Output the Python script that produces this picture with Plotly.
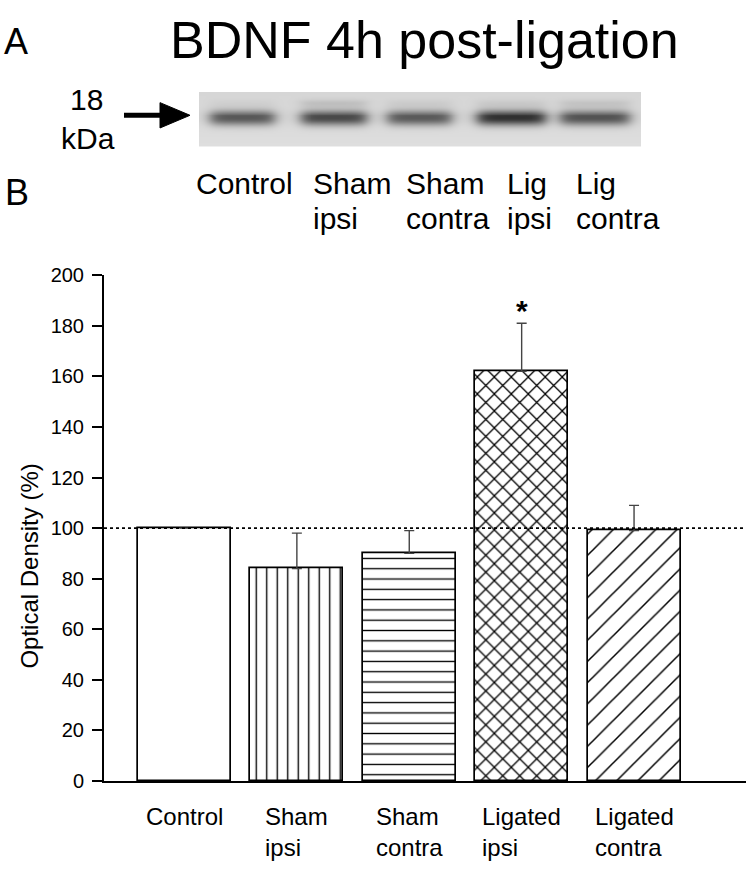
import numpy as np
import plotly.graph_objects as go

W, H = 750, 872

# ---------------- data ----------------
categories = ["Control", "Sham ipsi", "Sham contra", "Ligated ipsi", "Ligated contra"]
cat_labels = ["Control", "Sham<br>ipsi", "Sham<br>contra", "Ligated<br>ipsi", "Ligated<br>contra"]
od_mean = [100, 84, 90, 162, 99]
od_sem = [0, 14, 9, 19, 10]
patterns = ["", "|", "-", "x", "/"]
pattern_sizes = [10, 10.5, 10.3, 12, 15]
pattern_solidity = [0.13, 0.13, 0.13, 0.2, 0.1]
y_ticks = [0, 20, 40, 60, 80, 100, 120, 140, 160, 180, 200]
significant = [False, False, False, True, False]

# blot lanes (pixel columns inside the blot strip) and band darkness
blot_line1 = ["Control", "Sham", "Sham", "Lig", "Lig"]
blot_line2 = ["", "ipsi", "contra", "ipsi", "contra"]
lane_left = [10, 101, 188, 278, 362]
lane_right = [74, 167, 252, 347, 431]
band_dark = [130, 145, 128, 170, 135]
upper_band = [6, 22, 10, 12, 18]

FONT = "Liberation Sans, Arial, Helvetica, sans-serif"

def px(x):
    return x / W

def py(y):
    return 1 - y / H

fig = go.Figure()

# ---------------- bar chart ----------------
fig.add_trace(go.Bar(
    x=list(range(len(categories))),
    y=od_mean,
    width=0.827,
    marker=dict(
        color="white",
        line=dict(color="black", width=1.7),
        pattern=dict(shape=patterns, size=pattern_sizes, solidity=pattern_solidity,
                     fgcolor="black", bgcolor="white", fillmode="replace"),
    ),
    error_y=dict(type="data", symmetric=False, array=od_sem,
                 arrayminus=[0] * len(od_sem), color="#444444",
                 thickness=1.4, width=5),
    hoverinfo="skip",
    showlegend=False,
    xaxis="x", yaxis="y",
))

# ---------------- blot image ----------------
bx = np.arange(0, 443, 2.0)
by = np.arange(0, 57, 1.0)
X, Y = np.meshgrid(bx, by)
img = np.full(X.shape, 214.0)
img += 8 * (Y / 56.0)  # slightly lighter toward bottom
for l, r, d, u in zip(lane_left, lane_right, band_dark, upper_band):
    fx = 1 / (1 + np.exp(-(X - l) / 4.0)) * 1 / (1 + np.exp(-(r - X) / 4.0))
    fy = np.exp(-np.abs((Y - 26) / 8.0) ** 2.2)
    fu = np.exp(-np.abs((Y - 11) / 4.0) ** 2)
    img -= d * fx * fy + u * fx * fu
img = np.clip(img, 0, 255)

fig.add_trace(go.Heatmap(
    x=bx, y=by, z=img, zmin=0, zmax=255, zsmooth="best",
    colorscale=[[0, "black"], [1, "white"]], showscale=False,
    hoverinfo="skip", xaxis="x2", yaxis="y2",
))

# ---------------- layout ----------------
fig.update_layout(
    width=W, height=H,
    margin=dict(l=0, r=0, t=0, b=0),
    paper_bgcolor="white", plot_bgcolor="white",
    font=dict(family=FONT, color="black"),
    bargap=0,
    xaxis=dict(
        domain=[px(104), px(746)], range=[-0.716, 4.996],
        showline=True, linecolor="black", linewidth=2,
        showticklabels=False, ticks="", showgrid=False, zeroline=False,
        fixedrange=True,
    ),
    yaxis=dict(
        domain=[py(790), py(271)], range=[0, 200],
        tickvals=y_ticks, ticktext=[str(v) for v in y_ticks],
        showline=True, linecolor="black", linewidth=2,
        ticks="outside", ticklen=10, tickwidth=2, tickcolor="black",
        ticklabelstandoff=4,
        tickfont=dict(size=20, family=FONT, color="black"),
        showgrid=False, zeroline=False, fixedrange=True,
    ),
    xaxis2=dict(domain=[px(199), px(641)], range=[-1, 443], visible=False,
                anchor="y2", fixedrange=True),
    yaxis2=dict(domain=[py(139), py(83)], range=[56.5, -0.5], visible=False,
                anchor="x2", fixedrange=True),
)

# dotted reference line at 100 %
fig.add_shape(type="line", xref="x domain", yref="y", x0=0, x1=1, y0=100, y1=100,
              line=dict(color="black", width=1.6, dash="dot"), layer="above")

# arrow to the 18 kDa band
fig.add_shape(type="line", xref="paper", yref="paper",
              x0=px(124), x1=px(166), y0=py(107), y1=py(107),
              line=dict(color="black", width=5))
fig.add_shape(type="path", xref="paper", yref="paper",
              path=f"M {px(160)},{py(94)} L {px(190)},{py(107)} L {px(160)},{py(120)} Z",
              fillcolor="black", line=dict(color="black", width=1))

ann = []
ann.append(dict(text="A", x=px(16), y=py(31), font=dict(size=36)))
ann.append(dict(text="BDNF 4h post-ligation", x=px(424), y=py(30), font=dict(size=52)))
ann.append(dict(text="18", x=px(86), y=py(91), font=dict(size=30)))
ann.append(dict(text="kDa", x=px(88), y=py(131), font=dict(size=30)))
ann.append(dict(text="B", x=px(17), y=py(186), font=dict(size=36)))

lane_text_left = [194, 311, 404, 505, 574]
for t1, t2, xl in zip(blot_line1, blot_line2, lane_text_left):
    ann.append(dict(text=t1, x=px(xl), y=py(177), xanchor="left", font=dict(size=30)))
    if t2:
        ann.append(dict(text=t2, x=px(xl), y=py(213), xanchor="left", font=dict(size=30)))

for i, t in enumerate(cat_labels):
    ann.append(dict(text=t, x=i, xref="x", y=py(810), yanchor="top", align="left",
                    font=dict(size=24)))

for i, s in enumerate(significant):
    if s:
        ann.append(dict(text="<b>*</b>", x=i, xref="x", y=od_mean[i] + od_sem[i], yref="y",
                        yanchor="bottom", yshift=-6, font=dict(size=30)))

ann.append(dict(text="Optical Density (%)", x=px(30), y=py(570), textangle=-90,
                font=dict(size=24)))

for a in ann:
    a.setdefault("xref", "paper")
    a.setdefault("yref", "paper")
    a.setdefault("xanchor", "center")
    a.setdefault("yanchor", "middle")
    a["showarrow"] = False
    a["font"].setdefault("family", FONT)
    a["font"].setdefault("color", "black")
fig.update_layout(annotations=ann)

fig.write_html("out.html", config={"displayModeBar": False},
               post_script="document.body.style.margin='0px';")
